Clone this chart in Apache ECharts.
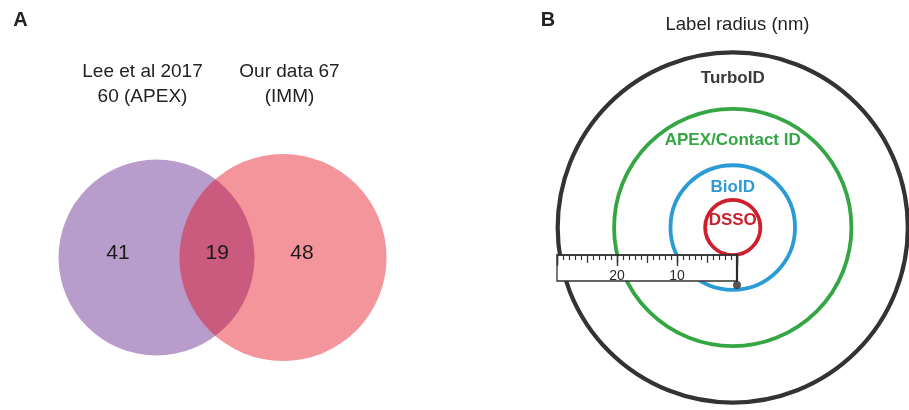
<!DOCTYPE html>
<html><head><meta charset="utf-8">
<script src="https://cdn.jsdelivr.net/npm/echarts@6/dist/echarts.min.js"></script>
<style>html,body{margin:0;padding:0;background:#fff}#c{width:909px;height:410px}</style>
</head><body><div id="c"></div>
<script>
// ---------- data: panel A (Venn) ----------
const vennSetNames = ['Lee et al 2017\n60 (APEX)', 'Our data 67\n(IMM)'];
const vennSetSizes = [60, 67];
const vennRegionLabels = ['41', '19', '48']; // left only, shared, right only
// ---------- data: panel B (label radius) ----------
const probeNames = ['TurboID', 'APEX/Contact ID', 'BioID', 'DSSO'];
const probeRadiusNm = [29.8, 20.2, 10.6, 4.7];
const rulerTickLabels = ['10', '20'];

// ---------- layout / style (not data) ----------
const FONT = '"Liberation Sans", Arial, sans-serif';
const vennCenterX = [0, 10];               // in venn axis units
const vennRegionX = [-3.05, 4.8, 11.5];
const vennRegionY = 0.35;
const vennFill = ['#b89ccb', 'rgba(229,3,20,0.42)'];
const probeColors = ['#333333', '#35a644', '#2b9bd6', '#cf1f2d'];
const probeTextColors = ['#3a3a3a', '#35a644', '#2e9ad4', '#cc1f2c'];
const probeLineWidth = [4.2, 3.8, 3.8, 3.8];
const probeLabelYNm = [24.9, 14.6, 6.75, 1.25];

const chart = echarts.init(document.getElementById('c'), null, {renderer: 'canvas'});

const hiddenAxis = (gi, min, max) => ({
  type: 'value', gridIndex: gi, min, max, show: false,
  axisLine: {show: false, onZero: false}, splitLine: {show: false}
});

const option = {
  animation: false,
  backgroundColor: '#fff',
  grid: [
    {left: 30, top: 131, width: 379.5, height: 253},          // venn
    {left: 556.5, top: 47.5, width: 360, height: 360},        // circles
    {left: 557, top: 255, width: 180, height: 26, show: true, z: 10,
     backgroundColor: '#fff', borderColor: '#333', borderWidth: 1.3} // ruler
  ],
  xAxis: [
    hiddenAxis(0, -10, 20),
    hiddenAxis(1, -30, 30),
    {type: 'value', gridIndex: 2, min: 0, max: 30, inverse: true, position: 'top', interval: 5, z: 11,
     axisLine: {show: true, onZero: false, lineStyle: {color: '#333', width: 1.5}},
     axisTick: {show: true, inside: true, length: 8, lineStyle: {color: '#333', width: 1.3}},
     minorTick: {show: true, splitNumber: 5, length: 5, lineStyle: {color: '#333', width: 1.2}},
     axisLabel: {show: false}, splitLine: {show: false}},
    {type: 'value', gridIndex: 2, min: 0, max: 30, inverse: true, position: 'top', interval: 10, z: 11,
     axisLine: {show: false, onZero: false},
     axisTick: {show: true, inside: true, length: 11, lineStyle: {color: '#333', width: 1.4}},
     axisLabel: {show: true, inside: true, margin: 14, fontSize: 14, color: '#2a2a2a', fontFamily: FONT,
       formatter: v => rulerTickLabels.includes(String(v)) ? String(v) : ''},
     splitLine: {show: false}}
  ],
  yAxis: [
    hiddenAxis(0, -10, 10),
    hiddenAxis(1, -30, 30),
    {type: 'value', gridIndex: 2, min: 0, max: 1, position: 'right', z: 11,
     axisLine: {show: true, onZero: false, lineStyle: {color: '#2a2a2a', width: 2.2}},
     axisTick: {show: false}, axisLabel: {show: false}, splitLine: {show: false}}
  ],
  graphic: [
    {type: 'text', x: 20.5, y: 20, style: {text: 'A', font: 'bold 20px ' + FONT, fill: '#222', align: 'center', verticalAlign: 'middle'}},
    {type: 'text', x: 548, y: 20, style: {text: 'B', font: 'bold 20px ' + FONT, fill: '#222', align: 'center', verticalAlign: 'middle'}},
    {type: 'text', x: 142.5, y: 84.5, style: {text: vennSetNames[0], font: '19px ' + FONT, lineHeight: 25, fill: '#222', align: 'center', verticalAlign: 'middle'}},
    {type: 'text', x: 289.5, y: 84.5, style: {text: vennSetNames[1], font: '19px ' + FONT, lineHeight: 25, fill: '#222', align: 'center', verticalAlign: 'middle'}},
    {type: 'text', x: 737.5, y: 25, style: {text: 'Label radius (nm)', font: '18.5px ' + FONT, fill: '#222', align: 'center', verticalAlign: 'middle'}}
  ],
  series: [
    {
      type: 'custom', xAxisIndex: 0, yAxisIndex: 0, z: 2, clip: false,
      data: vennSetSizes.map((s, i) => [i, s]),
      renderItem: (params, api) => {
        const i = api.value(0);
        const c = api.coord([vennCenterX[i], 0]);
        const r = api.size([Math.sqrt(api.value(1)), 0])[0];
        return {type: 'circle', shape: {cx: c[0], cy: c[1], r: r}, style: {fill: vennFill[i]}};
      }
    },
    {
      type: 'custom', xAxisIndex: 0, yAxisIndex: 0, z: 3, clip: false,
      data: vennRegionLabels.map((t, i) => [i, Number(t)]),
      renderItem: (params, api) => {
        const i = api.value(0);
        const p = api.coord([vennRegionX[i], vennRegionY]);
        return {type: 'text', x: p[0], y: p[1],
          style: {text: vennRegionLabels[i], font: '21px ' + FONT, fill: '#1a1a1a', align: 'center', verticalAlign: 'middle'}};
      }
    },
    {
      type: 'custom', xAxisIndex: 1, yAxisIndex: 1, z: 2, clip: false,
      data: probeRadiusNm.map((r, i) => [i, r]),
      renderItem: (params, api) => {
        const i = api.value(0);
        const c = api.coord([0, 0]);
        const r = api.size([api.value(1), 0])[0];
        const t = api.coord([0, probeLabelYNm[i]]);
        return {type: 'group', children: [
          {type: 'circle', shape: {cx: c[0], cy: c[1], r: r},
           style: {fill: 'none', stroke: probeColors[i], lineWidth: probeLineWidth[i]}},
          {type: 'text', x: t[0], y: t[1],
           style: {text: probeNames[i], font: 'bold 17px ' + FONT, fill: probeTextColors[i], align: 'center', verticalAlign: 'middle'}}
        ]};
      }
    },
    {
      type: 'scatter', xAxisIndex: 2, yAxisIndex: 2, z: 12, clip: false,
      data: [[0, 0]], symbol: 'circle', symbolSize: 8, symbolOffset: [0, 4],
      itemStyle: {color: '#2a2a2a'}, silent: true
    }
  ]
};
chart.setOption(option);
</script></body></html>
